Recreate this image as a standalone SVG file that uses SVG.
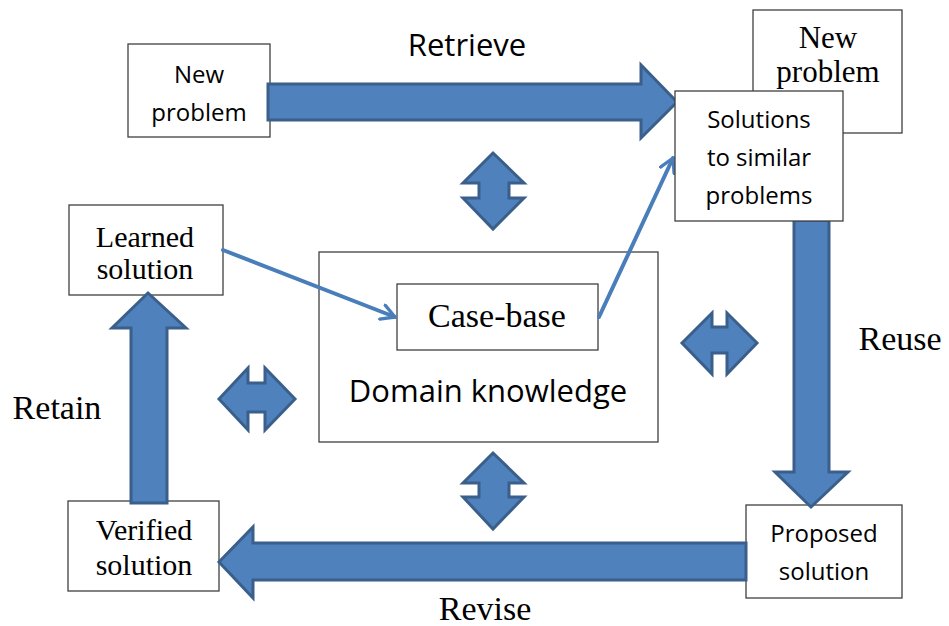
<svg xmlns="http://www.w3.org/2000/svg" width="949" height="626" viewBox="0 0 949 626">
<defs>
<style>
.box{fill:#ffffff;stroke:#404040;stroke-width:1.3}
.sans{font-family:"Open Sans","DejaVu Sans",sans-serif;fill:#000}
.serif{font-family:"Liberation Serif","Times New Roman",serif;fill:#000}
.big{fill:#4f81bd;stroke:#3a5f8b;stroke-width:3;stroke-linejoin:miter}
.thin{fill:none;stroke:#4a7ebb;stroke-width:4;stroke-linecap:round}
</style>
<marker id="open" viewBox="0 0 12 12" refX="10" refY="6" markerWidth="4.5" markerHeight="4.5" markerUnits="strokeWidth" orient="auto">
<path d="M1,1 L10,6 L1,11" fill="none" stroke="#4a7ebb" stroke-width="2.2" stroke-linecap="round" stroke-linejoin="round"/>
</marker>
</defs>
<rect width="949" height="626" fill="#ffffff"/>

<g id="domain-knowledge">
<rect class="box" x="319" y="252" width="339" height="190"/>
<text class="sans" x="488" y="402" font-size="31" text-anchor="middle">Domain knowledge</text>
</g>
<g id="case-base">
<rect class="box" x="397" y="284" width="201" height="66"/>
<text class="serif" x="497" y="327" font-size="34" text-anchor="middle">Case-base</text>
</g>
<g id="new-problem-left">
<rect class="box" x="128" y="44" width="142" height="93"/>
<text class="sans" x="199" y="83" font-size="24" text-anchor="middle">New</text>
<text class="sans" x="199" y="121" font-size="24" text-anchor="middle">problem</text>
</g>
<g id="new-problem-right">
<rect class="box" x="753" y="10" width="149" height="123"/>
<text class="serif" x="828" y="48" font-size="31" text-anchor="middle">New</text>
<text class="serif" x="828" y="82" font-size="31" text-anchor="middle">problem</text>
</g>
<g id="learned-solution">
<rect class="box" x="69" y="205" width="154" height="90"/>
<text class="serif" x="145" y="247" font-size="30" text-anchor="middle">Learned</text>
<text class="serif" x="145" y="279" font-size="30" text-anchor="middle">solution</text>
</g>
<g id="verified-solution">
<rect class="box" x="68" y="501" width="151" height="90"/>
<text class="serif" x="144" y="540" font-size="30" text-anchor="middle">Verified</text>
<text class="serif" x="144" y="575" font-size="30" text-anchor="middle">solution</text>
</g>
<g id="proposed-solution">
<rect class="box" x="746" y="505" width="156" height="93"/>
<text class="sans" x="824" y="542" font-size="24" text-anchor="middle">Proposed</text>
<text class="sans" x="824" y="580" font-size="24" text-anchor="middle">solution</text>
</g>

<g id="connectors">
<polygon class="big" points="268,84 641,84 641,65 677,102 641,138 641,120 268,120"/>
<polygon class="big" points="794,220 829,220 829,472 848,472 811,507 775,472 794,472"/>
<polygon class="big" points="746,543 253,543 253,527 219,562 253,598 253,580 746,580"/>
<polygon class="big" points="131,503 131,328 112,328 148,293 186,328 167,328 167,503"/>
<polygon class="big" points="493,153 524,183 509,183 509,198 524,198 493,229 463,198 479,198 479,183 463,183"/>
<polygon class="big" points="493,453 524,483 509,483 509,497 524,497 493,529 463,497 479,497 479,483 463,483"/>
<polygon class="big" points="219,399 248,368 248,383 265,383 265,368 295,399 265,430 265,412 248,412 248,430"/>
<polygon class="big" points="682,343 712,313 712,327 727,327 727,313 757,343 727,374 727,353 712,353 712,374"/>
<line class="thin" x1="223" y1="250" x2="395" y2="317" marker-end="url(#open)"/>
<line class="thin" x1="599" y1="317" x2="673" y2="158" marker-end="url(#open)"/>
</g>

<g id="solutions-similar">
<rect class="box" x="675" y="91" width="168" height="130"/>
<text class="sans" x="759" y="128" font-size="24" text-anchor="middle">Solutions</text>
<text class="sans" x="759" y="166" font-size="24" text-anchor="middle">to similar</text>
<text class="sans" x="759" y="204" font-size="24" text-anchor="middle">problems</text>
</g>

<g id="labels">
<text class="sans" x="467" y="56" font-size="31" text-anchor="middle">Retrieve</text>
<text class="serif" x="900" y="350" font-size="34" text-anchor="middle">Reuse</text>
<text class="serif" x="57" y="419" font-size="34" text-anchor="middle">Retain</text>
<text class="serif" x="485" y="620" font-size="34" text-anchor="middle">Revise</text>
</g>
</svg>
